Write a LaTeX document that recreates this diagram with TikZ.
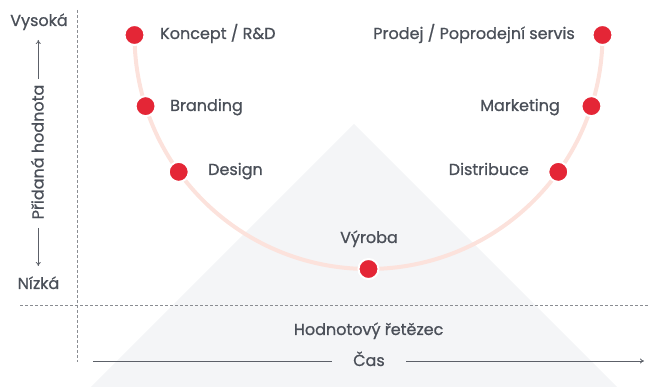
\documentclass[tikz,border=0pt]{standalone}
\usepackage{fontspec}
\setmainfont{Poppins}[FakeBold=0.9]
\usetikzlibrary{arrows.meta}
\definecolor{txt}{HTML}{4A4F58}
\definecolor{axis}{HTML}{5C6068}
\definecolor{dashc}{HTML}{8A8D92}
\definecolor{dotred}{HTML}{E42636}
\definecolor{curvepink}{HTML}{FCE2DC}
\definecolor{tri}{HTML}{F4F5F7}
\begin{document}
\begin{tikzpicture}[x=1pt,y=-1pt,
  stage/.style={circle,fill=dotred,draw=white,line width=2pt,minimum size=20pt,inner sep=0pt},
  lbl/.style={text=txt,font=\fontsize{16}{19}\selectfont,inner sep=0pt},
  axisarrow/.style={draw=axis,line width=0.8pt,-{To[length=4pt,width=5pt]}},
  axisline/.style={draw=axis,line width=0.8pt},
  guide/.style={draw=dashc,line width=0.9pt,dash pattern=on 3pt off 2pt}]
\useasboundingbox (0,0) rectangle (649,387);
% background triangle
\fill[tri] (354,124) -- (617,387) -- (91,387) -- cycle;
% dashed axes
\draw[guide] (77,10) -- (77,362);
\draw[guide] (20,305) -- (649,305);
% smile curve
\coordinate (c) at (368.5,35);
\draw[curvepink,line width=4pt] (c) ++(180:234) arc[start angle=180,end angle=0,radius=234];
% stages on the curve
\begin{scope}[shift={(368.5,35)}]
  \node[stage] (koncept) at (180:234) {};
  \node[stage] (branding) at (162.3:234) {};
  \node[stage] (design) at (144.2:234) {};
  \node[stage] (vyroba) at (90:234) {};
  \node[stage] (distribuce) at (35.8:234) {};
  \node[stage] (marketing) at (17.7:234) {};
  \node[stage] (prodej) at (0:234) {};
\end{scope}
% stage labels
\node[lbl,anchor=base west] (tkoncept) at (160,39) {Koncept / R\&D};
\node[lbl,anchor=base west] (tbranding) at (170,111) {Branding};
\node[lbl,anchor=base west] (tdesign) at (208,175) {Design};
\node[lbl,anchor=base] (tvyroba) at (369,243) {Výroba};
\node[lbl,anchor=base east] (tdistribuce) at (529,175) {Distribuce};
\node[lbl,anchor=base east] (tmarketing) at (560,111) {Marketing};
\node[lbl,anchor=base east] (tprodej) at (575,39) {Prodej / Poprodejní servis};
% vertical axis
\node[lbl,anchor=base] (vysoka) at (39,26) {Vysoká};
\node[lbl,anchor=base] (nizka) at (38.5,289) {Nízká};
\node[lbl,rotate=90,anchor=base] (hodnota) at (43.5,152) {Přidaná hodnota};
\coordinate (upA) at (38.3,79);
\coordinate (upB) at (38.3,40);
\coordinate (dnA) at (38.3,228);
\coordinate (dnB) at (38.3,266);
\draw[axisarrow] (upA) -- (upB);
\draw[axisarrow] (dnA) -- (dnB);
% horizontal axis
\node[lbl,anchor=base] (chain) at (368.6,335) {Hodnotový řetězec};
\node[lbl,anchor=base] (cas) at (369,366) {Čas};
\coordinate (tA) at (93,361);
\coordinate (tB) at (332,361);
\coordinate (tC) at (406,361);
\coordinate (tD) at (644,361);
\draw[axisline] (tA) -- (tB);
\draw[axisarrow] (tC) -- (tD);
\end{tikzpicture}
\end{document}
